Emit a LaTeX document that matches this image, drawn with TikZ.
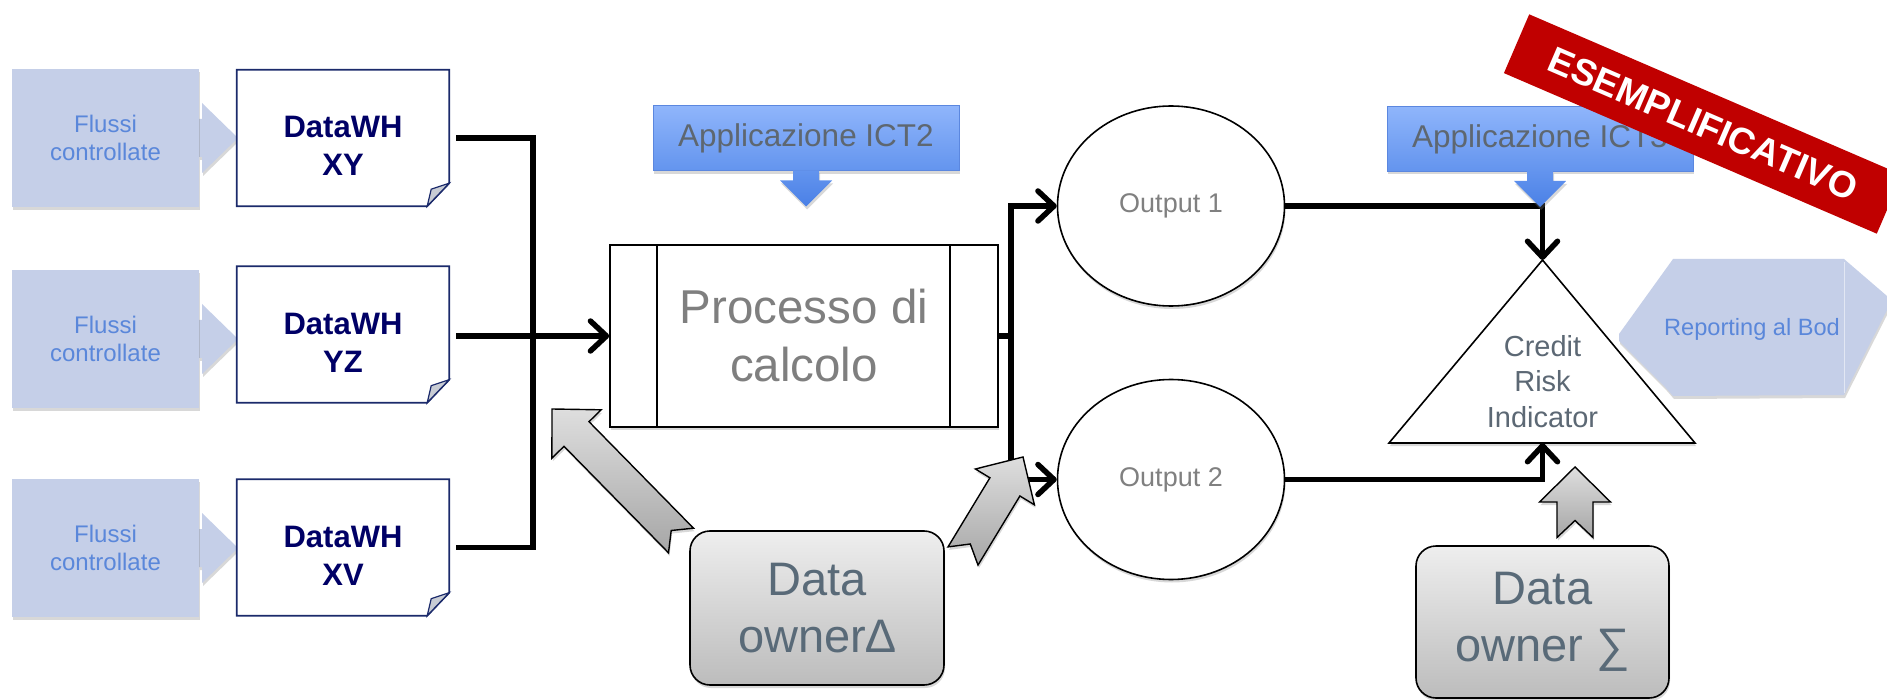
\documentclass[tikz,border=0pt]{standalone}
\usepackage{fontspec}
\setmainfont{Liberation Sans}
\usetikzlibrary{arrows.meta,shapes.geometric,calc,shadows}
\definecolor{flfill}{HTML}{C5CFE8}
\definecolor{fltext}{HTML}{5A87DA}
\definecolor{dwnavy}{HTML}{000066}
\definecolor{dwborder}{HTML}{1B2A6B}
\definecolor{flapgrey}{HTML}{C8CCD4}
\definecolor{proctext}{HTML}{7F7F7F}
\definecolor{icttop}{HTML}{8FB5FB}
\definecolor{ictbot}{HTML}{6394EE}
\definecolor{ictarrow}{HTML}{4A80E6}
\definecolor{ictborder}{HTML}{5B87DF}
\definecolor{icttext}{HTML}{5E6770}
\definecolor{outtext}{HTML}{808080}
\definecolor{critext}{HTML}{5C6874}
\definecolor{ownertext}{HTML}{596A78}
\definecolor{ownertop}{HTML}{EEEEEE}
\definecolor{ownerbot}{HTML}{BCBCBC}
\definecolor{gatop}{HTML}{DEDEDE}
\definecolor{gabot}{HTML}{A6A6A6}
\definecolor{bannerred}{HTML}{C00000}
\begin{document}
\begin{tikzpicture}[x=1pt,y=-1pt,
  flow/.style={line width=5.5pt, black},
  barb/.style={-{Straight Barb[length=16pt,width=30pt,round]}},
  shad/.style={drop shadow={opacity=0.3,shadow xshift=1pt,shadow yshift=-3pt}},
  flbox/.style={fill=flfill, minimum width=187pt, minimum height=138pt, inner sep=0pt,
    align=center, text=fltext, font=\fontsize{24}{28}\selectfont, shad},
  flhead/.style={fill=flfill, shad},
  dwbox/.style={minimum width=212pt, minimum height=136pt, inner sep=0pt},
  dwline/.style={draw=dwborder, line width=1.8pt},
  dwtext/.style={align=center, text=dwnavy, font=\fontsize{31}{38}\selectfont\bfseries, inner sep=0pt},
  ict/.style={draw=ictborder, line width=1pt, top color=icttop, bottom color=ictbot,
    minimum width=306pt, minimum height=65pt, text=icttext, font=\fontsize{31.5}{36}\selectfont, shad},
  ictarr/.style={top color=ictbot, bottom color=ictarrow, shad},
  outell/.style={ellipse, draw, line width=1.6pt, fill=white, minimum width=227pt, minimum height=200pt,
    inner sep=0pt, text=outtext, font=\fontsize{27}{32}\selectfont, shad},
  owner/.style={draw, line width=1.6pt, rounded corners=20pt, top color=ownertop, bottom color=ownerbot,
    minimum width=254pt, minimum height=154pt, text=ownertext, font=\fontsize{47}{57}\selectfont,
    align=center, shad},
  garrow/.style={draw=black, line width=1.4pt, top color=gatop, bottom color=gabot, shad},
  banner/.style={fill=bannerred, rotate=-23.3, minimum width=406pt, minimum height=64pt, inner sep=0pt,
    text=white, font=\fontsize{37}{40}\selectfont\bfseries}
]
\useasboundingbox (0,0) rectangle (1887,700);
\fill[white] (0,0) rectangle (1887,700);

% ---------- Flussi controllate ----------
\foreach \n/\cy in {1/138,2/339,3/548}{
  \fill[flhead] (199,\cy-19) -- (202,\cy-19) -- (202,\cy-35) -- (238,\cy) -- (202,\cy+35) -- (202,\cy+19) -- (199,\cy+19) -- cycle;
  \node[flbox] (fl\n) at (105.5,\cy) {Flussi\\controllate};
}

% ---------- DataWH ----------
\node[dwbox] (dw1) at (343,138) {};
\node[dwbox] (dw2) at (343,334.5) {};
\node[dwbox] (dw3) at (343,547.5) {};
\foreach \n/\lab in {1/XY,2/YZ,3/XV}{
  \filldraw[dwline, fill=white] (dw\n.north west) -- (dw\n.north east) -- ($(dw\n.south east)+(0,-23)$)
     -- ($(dw\n.south east)+(-22,0)$) -- (dw\n.south west) -- cycle;
  \filldraw[dwline, line width=1.2pt, fill=flapgrey] ($(dw\n.south east)+(-22,0)$) -- ($(dw\n.south east)+(-18,-17)$)
     -- ($(dw\n.south east)+(0,-23)$) -- cycle;
  \node[dwtext] (dw\n t) at ($(dw\n.center)+(0,8)$) {DataWH\\\lab};
}

% ---------- Processo di calcolo ----------
\node[draw, line width=1.6pt, fill=white, minimum width=388pt, minimum height=182pt, inner sep=0pt, shad,
  text=proctext, font=\fontsize{47.5}{58}\selectfont, align=center] (proc) at (804,336) {Processo di\\calcolo};
\draw[line width=1.6pt] ($(proc.north west)+(48,0)$) -- ($(proc.south west)+(48,0)$);
\draw[line width=1.6pt] ($(proc.north east)+(-49,0)$) -- ($(proc.south east)+(-49,0)$);

% ---------- bus lines left ----------
\draw[flow] ($(dw1.east)+(7,0)$) -- ($(dw1.east)+(84,0)$) |- ($(dw3.east)+(7,0)$);
\draw[flow,barb] ($(dw2.east |- proc.west)+(7,0)$) -- (proc.west);

% ---------- Outputs ----------
\node[outell] (out1) at (1171,206) {Output 1};
\node[outell] (out2) at (1171,479.5) {Output 2};
\draw[flow,barb] (proc.east) -- ++(12,0) |- (out1.west);
\draw[flow,barb] ($(proc.east)+(12,0)$) |- (out2.west);

% ---------- Credit Risk Indicator ----------
\coordinate (tapex) at (1542.5,260);
\coordinate (tbl) at (1389,443);
\coordinate (tbr) at (1695,443);
\coordinate (tbase) at (1542.5,443);
\filldraw[line width=1.6pt, fill=white, shad] (tapex) -- (tbr) -- (tbl) -- cycle;
\node[align=center, text=critext, font=\fontsize{29}{35.5}\selectfont, inner sep=0pt] (cri) at (1542.5,381.5) {Credit\\Risk\\Indicator};
\draw[flow,barb] (out1.east) -| (tapex);
\draw[flow,barb] (out2.east) -| (tbase);

% ---------- ICT callouts ----------
\node[ict] (ict2) at (806,138.5) {Applicazione ICT2};
\node[ict] (ict3) at (1540,139) {Applicazione ICT3};
\foreach \a in {ict2,ict3}{
  \path[ictarr] ($(\a.south)+(-13,-1)$) -- ($(\a.south)+(13,-1)$) -- ($(\a.south)+(13,9)$) -- ($(\a.south)+(26,9)$)
    -- ($(\a.south)+(0,35)$) -- ($(\a.south)+(-26,9)$) -- ($(\a.south)+(-13,9)$) -- cycle;
}

% ---------- Reporting al Bod ----------
\path[fill=flfill, shad] (1673,259) -- (1844,259) -- (1887,296) -- (1887,310) -- (1844,395) -- (1673,396)
  -- (1666,388) -- (1619,341) -- (1619,334) -- cycle;
\draw[white, opacity=0.5, line width=0.8pt] (1844,262) -- (1844,393);
\node[text=fltext, font=\fontsize{23.6}{28}\selectfont, inner sep=0pt] (rep) at (1752,329) {Reporting al Bod};

% ---------- Data owners ----------
\node[owner] (do1) at (817,608) {Data\\owner∆};
\node[owner, minimum width=253pt, minimum height=152pt] (do2) at (1542.5,622) {Data\\owner ∑};

% ---------- grey block arrows ----------
\path[garrow] (552,409) -- (601.1,409.8) -- (589.0,421.7) -- (693.5,528.2) -- (671.2,530.5)
  -- (668.5,552.8) -- (564.0,446.3) -- (551.9,458.2) -- cycle;
\path[garrow] (1023,457) -- (1034.4,504.8) -- (1019.9,496.0) -- (978.0,565.1) -- (970.3,544.0)
  -- (948.0,546.9) -- (989.9,477.8) -- (975.4,469.0) -- cycle;
\path[garrow] (1575,467) -- (1610.5,502) -- (1593,502) -- (1593,537.5) -- (1575,520.5)
  -- (1557,537.5) -- (1557,502) -- (1539.5,502) -- cycle;

% ---------- banner ----------
\begin{scope}
\clip (0,0) rectangle (1887,700);
\node[banner] (esempio) at (1703,124) {ESEMPLIFICATIVO};
\end{scope}
\end{tikzpicture}
\end{document}
